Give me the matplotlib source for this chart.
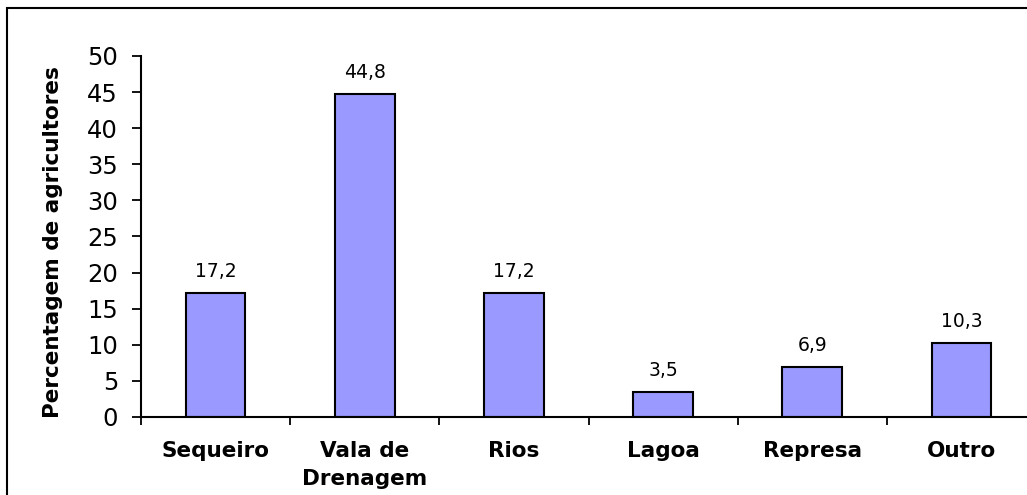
import numpy as np
import matplotlib
matplotlib.use('Agg')
import matplotlib.pyplot as plt
from matplotlib.patches import Rectangle

categorias = ['Sequeiro', 'Vala de\nDrenagem', 'Rios', 'Lagoa', 'Represa', 'Outro']
valores = [17.2, 44.8, 17.2, 3.5, 6.9, 10.3]
rotulos = ['17,2', '44,8', '17,2', '3,5', '6,9', '10,3']
yticks = np.arange(0, 51, 5)

fig = plt.figure(figsize=(10.27, 4.95), dpi=100)
# eixo um pouco maior que a figura a direita (a ultima categoria fica cortada)
ax = fig.add_axes([0.1373, 0.1576, 0.8715, 0.7293])

x = np.arange(len(categorias))
barras = ax.bar(x, valores, width=0.40, color='#9999FF', edgecolor='black', linewidth=1.5)

for xi, v, r in zip(x, valores, rotulos):
    ax.annotate(r, (xi, v), xytext=(0, 11.5), textcoords='offset points',
                ha='center', va='baseline', fontsize=13.5)

ax.set_xlim(-0.5, len(categorias) - 0.5)
ax.set_ylim(0, 50)
ax.set_yticks(yticks)
ax.set_yticklabels([str(t) for t in yticks], fontsize=17.5)
ax.tick_params(axis='y', direction='out', length=6.5, width=1.3, pad=10)

# rotulos no centro, tracos entre as categorias
ax.set_xticks(x)
ax.set_xticklabels(categorias, fontsize=15.5, fontweight='bold', linespacing=1.55)
ax.tick_params(axis='x', which='major', length=0, pad=17)
ax.set_xticks(np.arange(-0.5, len(categorias), 1.0), minor=True)
ax.tick_params(axis='x', which='minor', direction='out', length=6, width=1.3)

ax.set_ylabel('Percentagem de agricultores', fontsize=15.5, fontweight='bold')
ax.yaxis.set_label_coords(-0.087, 0.485)

for s in ['top', 'right']:
    ax.spines[s].set_visible(False)
for s in ['left', 'bottom']:
    ax.spines[s].set_linewidth(1.5)

# moldura do grafico
fig.patches.append(Rectangle((7 / 1027, -0.05), 1.2, 0.05 + (495 - 8) / 495,
                             transform=fig.transFigure, fill=False,
                             edgecolor='black', linewidth=1.5))

fig.savefig('out.png', dpi=100)
